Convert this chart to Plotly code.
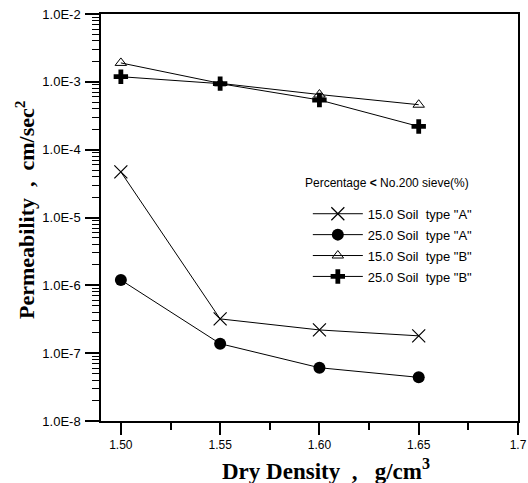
import plotly.graph_objects as go

density = [1.50, 1.55, 1.60, 1.65]
perm_15A = [4.7e-5, 3.2e-7, 2.2e-7, 1.8e-7]
perm_25A = [1.2e-6, 1.38e-7, 6.1e-8, 4.4e-8]
perm_15B = [1.9e-3, 9.5e-4, 6.5e-4, 4.6e-4]
perm_25B = [1.19e-3, 9.4e-4, 5.4e-4, 2.2e-4]

names = ['15.0 Soil  type "A"', '25.0 Soil  type "A"', '15.0 Soil  type "B"', '25.0 Soil  type "B"']
ytickvals = [1e-8, 1e-7, 1e-6, 1e-5, 1e-4, 1e-3, 1e-2]
yticktext = ["1.0E-8", "1.0E-7", "1.0E-6", "1.0E-5", "1.0E-4", "1.0E-3", "1.0E-2"]
xtickvals = [1.50, 1.55, 1.60, 1.65, 1.70]
xticktext = ["1.50", "1.55", "1.60", "1.65", "1.7"]
xminorvals = [1.525, 1.575, 1.625, 1.675]
yminorvals = [d * m for d in ytickvals[:-1] for m in range(2, 10)]

series = [perm_15A, perm_25A, perm_15B, perm_25B]
markers = [
    dict(symbol="x-thin-open", size=13, color="black", line=dict(width=1.2, color="black")),
    dict(symbol="circle", size=12, color="black", line=dict(width=0, color="black")),
    dict(symbol="triangle-up-open", size=10, color="black", line=dict(width=1, color="black")),
    dict(symbol="cross", size=12, color="black", line=dict(width=0, color="black")),
]

fig = go.Figure()
for i, (nm, ys, mk) in enumerate(zip(names, series, markers)):
    fig.add_trace(go.Scatter(x=density, y=ys, mode="lines+markers", name=nm,
                             legendgroup="g%d" % i,
                             line=dict(color="black", width=1), marker=mk))

W, H = 528, 483
ML, MR, MT, MB = 101, 10, 14, 62
PW, PH = W - ML - MR, H - MT - MB

serif = "Liberation Serif, Times New Roman, serif"
fig.update_layout(
    width=W, height=H,
    margin=dict(l=ML, r=MR, t=MT, b=MB),
    paper_bgcolor="white", plot_bgcolor="white",
    font=dict(family="Liberation Sans, Arial", size=12, color="black"),
    showlegend=True,
    legend=dict(
        x=0.496, y=0.546, xanchor="left", yanchor="top",
        font=dict(size=13), bgcolor="rgba(0,0,0,0)", tracegroupgap=1,
        traceorder="grouped", itemwidth=50,
    ),
    xaxis=dict(
        range=[1.49, 1.70], tickmode="array", tickvals=xtickvals, ticktext=xticktext,
        ticks="outside", ticklen=12, tickwidth=2, tickcolor="black",
        ticklabelstandoff=0, tickfont=dict(size=12), automargin=False,
        showline=True, linecolor="black", linewidth=1.5, mirror=True,
        showgrid=False, zeroline=False,
        minor=dict(tickmode="array", tickvals=xminorvals, ticks="outside", ticklen=7,
                   tickwidth=1.5, tickcolor="black"),
    ),
    yaxis=dict(
        type="log", range=[-8, -2], tickmode="array", tickvals=ytickvals, ticktext=yticktext,
        ticks="outside", ticklen=14, tickwidth=2, tickcolor="black",
        ticklabelstandoff=2, tickfont=dict(size=13), automargin=False,
        showline=True, linecolor="black", linewidth=1.5, mirror=True,
        showgrid=False, zeroline=False,
        minor=dict(tickmode="array", tickvals=yminorvals, ticks="outside", ticklen=7,
                   tickwidth=1.2, tickcolor="black"),
    ),
    annotations=[
        dict(text="<b>Dry Density&nbsp;&nbsp;,&nbsp;&nbsp;&nbsp;g/cm<sup>3</sup></b>",
             xref="paper", yref="paper", x=(326 - ML) / PW, y=-(469 - (H - MB)) / PH,
             xanchor="center", yanchor="middle", showarrow=False,
             font=dict(family=serif, size=23, color="black")),
        dict(text="<b>Permeability&nbsp;&nbsp;,&nbsp;&nbsp;cm/sec<sup>2</sup></b>",
             xref="paper", yref="paper", x=-(ML - 25) / PW, y=((H - MB) - 210) / PH,
             xanchor="center", yanchor="middle", textangle=-90, showarrow=False,
             font=dict(family=serif, size=22, color="black")),
        dict(text="Percentage <b>&lt;</b> No.200 sieve(%)",
             xref="paper", yref="paper", x=(303 - ML) / PW, y=((H - MB) - 183) / PH,
             xanchor="left", yanchor="middle", showarrow=False,
             font=dict(size=12, color="black")),
    ],
)

fig.write_html("out.html")
